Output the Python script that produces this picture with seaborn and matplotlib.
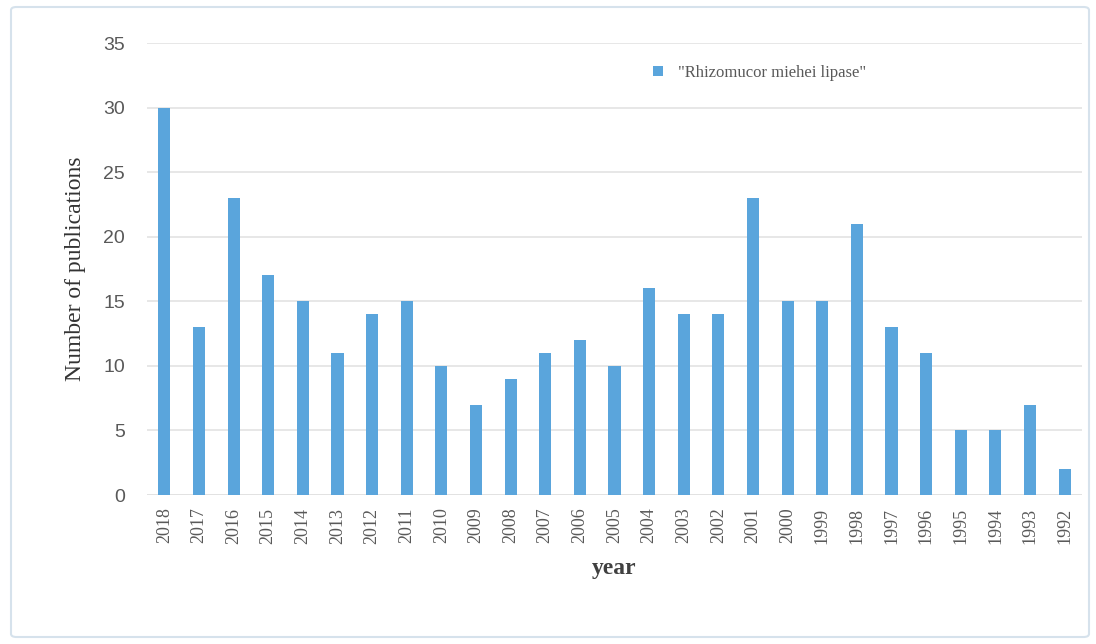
import matplotlib
matplotlib.use("Agg")
import matplotlib.pyplot as plt
import pandas as pd
import seaborn as sns
from matplotlib.patches import FancyBboxPatch

# Data ---------------------------------------------------------------
years = ["2018", "2017", "2016", "2015", "2014", "2013", "2012", "2011", "2010",
         "2009", "2008", "2007", "2006", "2005", "2004", "2003", "2002", "2001",
         "2000", "1999", "1998", "1997", "1996", "1995", "1994", "1993", "1992"]
publications = [30, 13, 23, 17, 15, 11, 14, 15, 10, 7, 9, 11, 12, 10, 16, 14,
                 14, 23, 15, 15, 21, 13, 11, 5, 5, 7, 2]
series_name = '"Rhizomucor miehei lipase"'

df = pd.DataFrame({"year": years, "n": publications, "series": series_name})

# Plot ---------------------------------------------------------------
sns.set_style("white")
c_bar = "#5aa5dc"

fig = plt.figure(figsize=(10.96, 6.44), dpi=100)
ax = fig.add_axes([147 / 1096, 1 - 495 / 644, (1082 - 147) / 1096, (495 - 43) / 644])

sns.barplot(data=df, x="year", y="n", hue="series", palette=[c_bar],
            width=0.35, order=years, ax=ax, saturation=1, linewidth=0)

ax.set_ylim(0, 35)
ax.set_yticks(range(0, 36, 5))
ax.yaxis.grid(True, color="#e3e3e3", linewidth=1.2)
ax.set_axisbelow(True)
sns.despine(ax=ax, left=True, bottom=True, top=True, right=True)
ax.axhline(0, color="#d9d9d9", linewidth=1.2, zorder=0)
ax.set_xlim(-0.5, len(years) - 0.5)

ax.tick_params(axis="y", length=0, pad=16, labelsize=14, labelcolor="#595959")
ax.tick_params(axis="x", length=0, pad=9, labelsize=13, labelcolor="#595959")
for lab in ax.get_yticklabels():
    lab.set_fontfamily("Liberation Sans")
for lab in ax.get_xticklabels():
    lab.set_rotation(90)
    lab.set_fontfamily("Liberation Serif")

ax.set_xlabel("year", fontsize=17, family="Liberation Serif", fontweight="bold",
              color="#404040", labelpad=10)
ax.set_ylabel("Number of publications", fontsize=17, family="Liberation Serif",
              color="#333333", labelpad=12)

leg = ax.legend(loc="upper left", bbox_to_anchor=(0.525, 0.985), frameon=False,
                prop={"family": "Liberation Serif", "size": 12},
                handlelength=0.6, handleheight=0.6, handletextpad=0.9)
for t in leg.get_texts():
    t.set_color("#595959")

# Figure frame
frame = FancyBboxPatch((11 / 1096, 7 / 644), 1078 / 1096, 630 / 644,
                       boxstyle="round,pad=0,rounding_size=0.005",
                       transform=fig.transFigure, facecolor="none",
                       edgecolor="#d6e2ec", linewidth=1.5)
fig.patches.append(frame)

fig.savefig("out.png", dpi=100)
